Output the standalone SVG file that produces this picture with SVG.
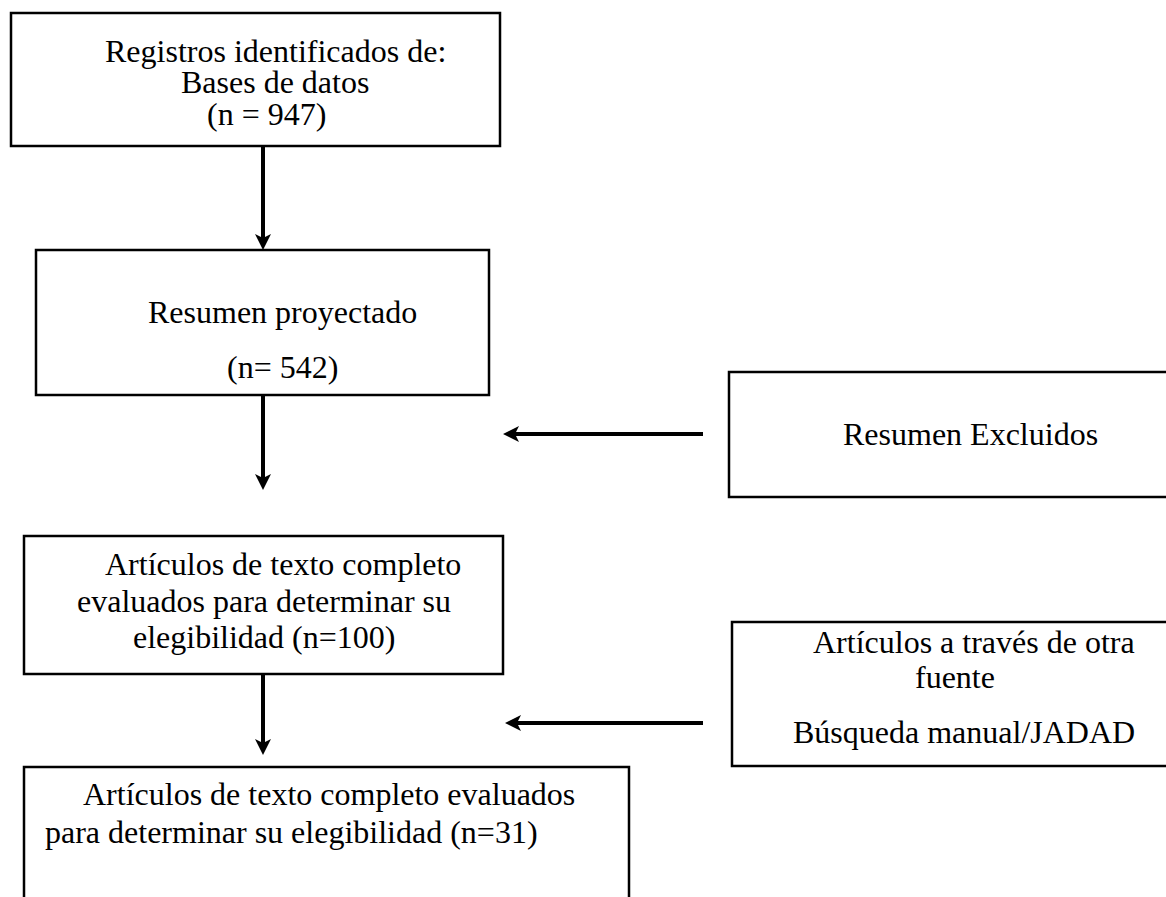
<svg xmlns="http://www.w3.org/2000/svg" width="1166" height="897" viewBox="0 0 1166 897">
<style>
.box{fill:#fff;stroke:#000;stroke-width:2.5}
.open{fill:none;stroke:#000;stroke-width:2.5}
.t{font-family:"Liberation Serif","Times New Roman",serif;font-size:32px;fill:#000}
.conn{stroke:#000;stroke-width:4;fill:none;marker-end:url(#ah)}
</style>
<defs>
<marker id="ah" markerUnits="userSpaceOnUse" markerWidth="20" markerHeight="20" viewBox="0 -10 20 20" refX="5" refY="0" orient="auto">
<path d="M16,0 L0,-8 L4,0 L0,8 Z" fill="#000"/>
</marker>
</defs>
<rect width="1166" height="897" fill="#fff"/>
<g id="connectors">
<line class="conn" x1="263" y1="146" x2="263" y2="239"/>
<line class="conn" x1="263" y1="395" x2="263" y2="479"/>
<line class="conn" x1="263" y1="674" x2="263" y2="744"/>
<line class="conn" x1="703" y1="434" x2="514" y2="434"/>
<line class="conn" x1="703" y1="723" x2="516" y2="723"/>
</g>
<g id="n1">
<rect class="box" x="11" y="13" width="489" height="133"/>
<text class="t" x="105" y="62">Registros identificados de:</text>
<text class="t" x="181" y="93">Bases de datos</text>
<text class="t" x="207" y="125">(n = 947)</text>
</g>
<g id="n2">
<rect class="box" x="36" y="250" width="453" height="145"/>
<text class="t" x="148" y="323">Resumen proyectado</text>
<text class="t" x="227" y="378">(n= 542)</text>
</g>
<g id="n3">
<rect class="box" x="729" y="372" width="450" height="125"/>
<text class="t" x="843" y="445">Resumen Excluidos</text>
</g>
<g id="n4">
<rect class="box" x="24" y="536" width="479" height="138"/>
<text class="t" x="105" y="575">Artículos de texto completo</text>
<text class="t" x="77" y="612">evaluados para determinar su</text>
<text class="t" x="133" y="648">elegibilidad (n=100)</text>
</g>
<g id="n6">
<rect class="box" x="732" y="622" width="450" height="144"/>
<text class="t" x="813" y="653">Artículos a través de otra</text>
<text class="t" x="915" y="688">fuente</text>
<text class="t" x="793" y="743">Búsqueda manual/JADAD</text>
</g>
<g id="n5">
<path class="open" d="M24,905 V767 H629 V905"/>
<text class="t" x="83" y="805">Artículos de texto completo evaluados</text>
<text class="t" x="45" y="843">para determinar su elegibilidad (n=31)</text>
</g>
</svg>
